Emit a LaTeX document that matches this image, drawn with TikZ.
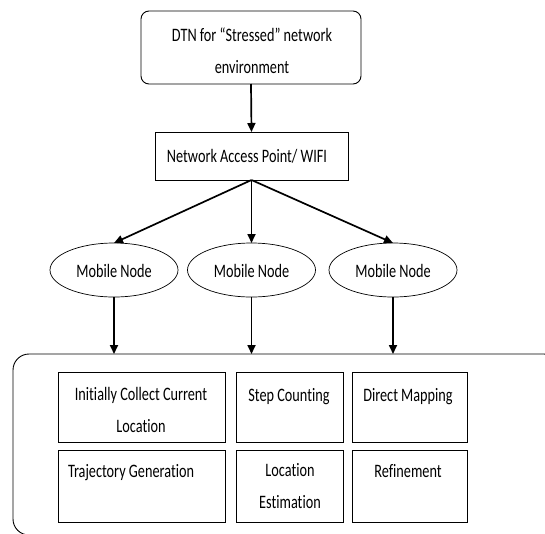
\documentclass[tikz,border=0pt]{standalone}
\usepackage{fontspec}
\setmainfont{Carlito}[FakeStretch=0.75,Ligatures={NoCommon,TeX}]
\usetikzlibrary{arrows.meta,shapes.geometric}
\begin{document}
\begin{tikzpicture}[x=1pt,y=-1pt,
  every node/.style={font=\fontsize{19}{32}\selectfont, inner sep=0pt, outer sep=0pt},
  box/.style={draw, line width=0.9pt, minimum width=#1},
  mob/.style={draw, line width=0.7pt, ellipse, minimum width=128pt, minimum height=54pt},
  txt/.style={anchor=base, align=center},
  arr/.style={line width=1.7pt, -{Triangle[length=9pt,width=8pt]}}
]
\clip (0,0) rectangle (545,533);
\fill[white] (0,0) rectangle (545,533);
% top
\node[box=220pt, minimum height=73pt, rounded corners=8pt] (top) at (251,47.5) {};
\node[txt] (toptxt) at (252,73) {DTN for ``Stressed'' network\\environment};
% NAP
\node[box=193pt, minimum height=48pt] (nap) at (251.5,156) {};
\node[txt] (naptxt) at (247,162) {Network Access Point/ WIFI};
% mobile nodes
\node[mob] (m1) at (114,270) {};
\node[mob] (m2) at (251.5,270) {};
\node[mob] (m3) at (393,270) {};
\node[txt] (m1t) at (114,277) {Mobile Node};
\node[txt] (m2t) at (251.5,277) {Mobile Node};
\node[txt] (m3t) at (393,277) {Mobile Node};
% container
\node[draw, line width=0.9pt, rounded corners=16pt, minimum width=547pt, minimum height=181pt] (cont) at (286.5,444.5) {};
% inner boxes
\node[box=167pt, minimum height=70pt] (b11) at (141.5,407) {};
\node[box=107pt, minimum height=70pt] (b12) at (289.5,407) {};
\node[box=115pt, minimum height=70pt] (b13) at (409.5,407) {};
\node[box=167pt, minimum height=72pt] (b21) at (141.5,486) {};
\node[box=107pt, minimum height=72pt] (b22) at (289.5,486) {};
\node[box=115pt, minimum height=72pt] (b23) at (409.5,486) {};
\node[txt] (t11) at (141,432) {Initially Collect Current\\Location};
\node[txt] (t12) at (289,401) {Step Counting};
\node[txt] (t13) at (408,401) {Direct Mapping};
\node[anchor=base west] (t21) at (68,477) {Trajectory Generation};
\node[txt] (t22) at (290,508) {Location\\Estimation};
\node[txt] (t23) at (408,477) {Refinement};
% arrows
\draw[arr] (top.south) -- (nap.north);
\draw[arr] (nap.south) -- (m1.north);
\draw[arr] (nap.south) -- (m2.north);
\draw[arr] (nap.south) -- (m3.north);
\draw[arr] (m1.south) -- (m1.south |- cont.north);
\draw[arr] (m2.south) -- (m2.south |- cont.north);
\draw[arr] (m3.south) -- (m3.south |- cont.north);
\end{tikzpicture}
\end{document}
